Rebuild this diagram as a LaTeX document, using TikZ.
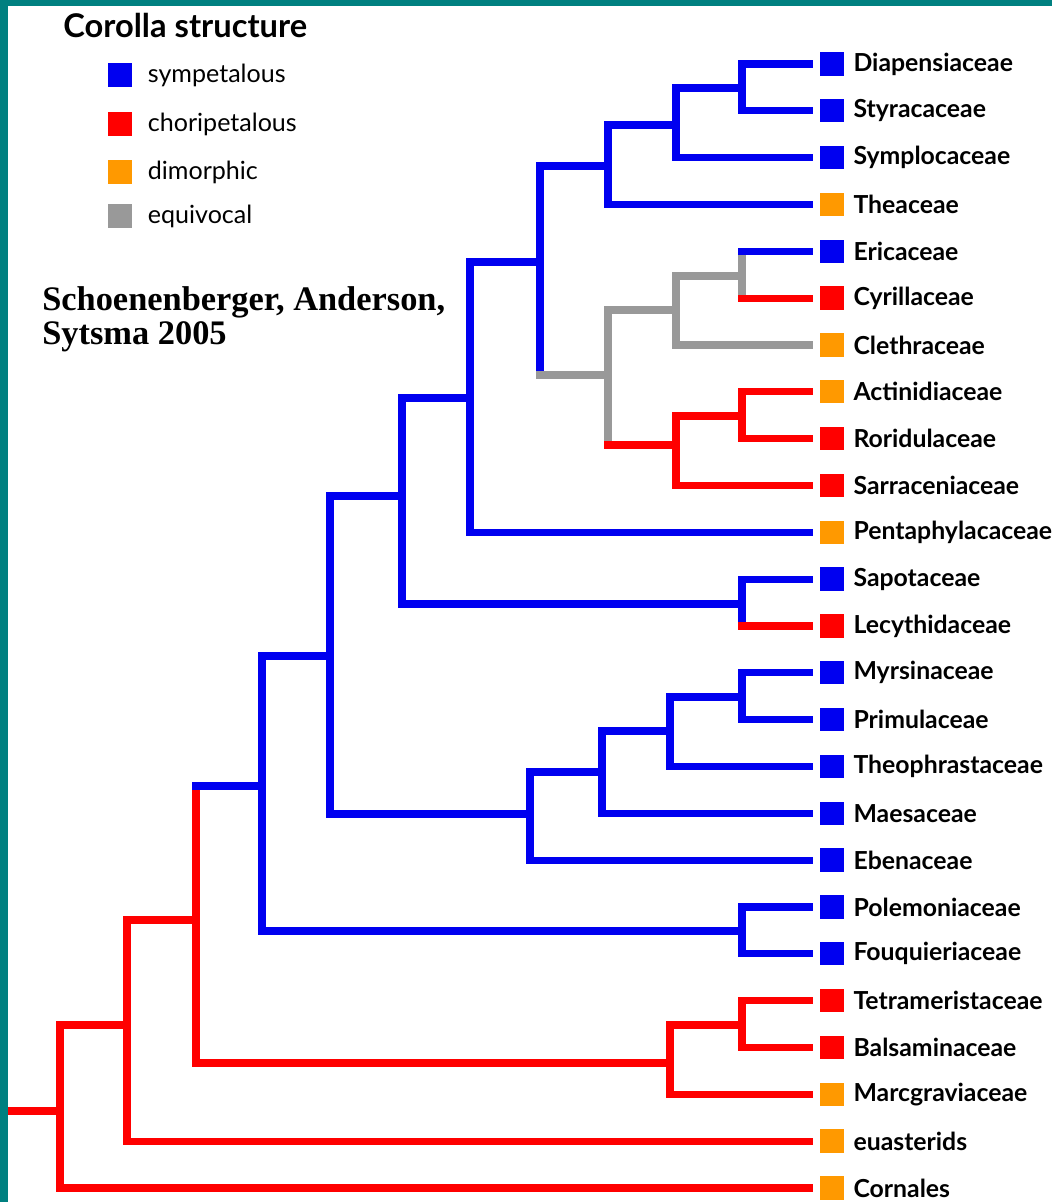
\documentclass[tikz,border=0pt]{standalone}
\usepackage{fontspec}
\setmainfont{Liberation Serif}
\newfontfamily\taxonfont{Lato}
\usepackage{tikz}
\usetikzlibrary{calc,positioning}

\definecolor{sympblue}{RGB}{0,0,240}
\definecolor{chorired}{RGB}{255,0,0}
\definecolor{dimorange}{RGB}{255,153,0}
\definecolor{equigray}{RGB}{153,153,153}
\definecolor{frameteal}{RGB}{0,128,128}

\begin{document}
\begin{tikzpicture}[x=0.75pt,y=-0.75pt]

  % Styles
  \tikzstyle{hbranch}=[line width=5.4pt,shorten <=-2.7pt]
  \tikzstyle{vbranch}=[line width=5.4pt,line cap=rect]
  \tikzstyle{tipbranch}=[hbranch,shorten >=5.25pt]
  \tikzstyle{leafbox}=[minimum size=17.5pt,inner sep=0pt]
  \tikzstyle{leaftext}=[inner sep=0pt,xshift=7pt,font=\taxonfont\bfseries\fontsize{18.6}{20}\selectfont]
  \tikzstyle{keybox}=[leafbox,minimum size=18pt]
  \tikzstyle{keytext}=[inner sep=0pt,xshift=11.5pt,font=\taxonfont\fontsize{18.8}{20}\selectfont]

  % \leaf{<id>}{<colour>}{<label>}
  \newcommand{\leaf}[3]{node[leafbox,fill=#2,label={[leaftext]right:#3}] (#1) {}}
  % \keyentry{<id>}{<colour>}{<label>}
  \newcommand{\keyentry}[3]{node[keybox,fill=#2,label={[keytext]right:#3}] (#1) {}}

  % ===========================================================================

  % Frame
  \useasboundingbox (0,0) rectangle (1052,1202);
  \fill[frameteal] (0,0) rectangle (8,1202);
  \fill[frameteal] (0,0) rectangle (1052,6);

  % Legend
  \node[anchor=west,inner sep=0pt,font=\taxonfont\bfseries\fontsize{24.5}{26}\selectfont] (title) at (63,25) {Corolla structure};
  \path (120,75)  \keyentry{ksym}{sympblue}{sympetalous};
  \path (120,124) \keyentry{kcho}{chorired}{choripetalous};
  \path (120,172) \keyentry{kdim}{dimorange}{dimorphic};
  \path (120,216) \keyentry{kequ}{equigray}{equivocal};

  \node[anchor=north west,align=left,inner sep=0pt,font=\bfseries\fontsize{25.8}{25.5}\selectfont] (cite) at (42,286) {Schoenenberger, Anderson,\\Sytsma 2005};

  % Draw leaves
  \foreach \id/\col/\name [count=\i] in {
      dia/sympblue/Diapensiaceae, sty/sympblue/Styracaceae, sym/sympblue/Symplocaceae,
      the/dimorange/Theaceae, eri/sympblue/Ericaceae, cyr/chorired/Cyrillaceae,
      cle/dimorange/Clethraceae, act/dimorange/Actinidiaceae, ror/chorired/Roridulaceae,
      sar/chorired/Sarraceniaceae, pen/dimorange/Pentaphylacaceae, sap/sympblue/Sapotaceae,
      lec/chorired/Lecythidaceae, myr/sympblue/Myrsinaceae, pri/sympblue/Primulaceae,
      tph/sympblue/Theophrastaceae, mae/sympblue/Maesaceae, ebe/sympblue/Ebenaceae,
      pol/sympblue/Polemoniaceae, fou/sympblue/Fouquieriaceae, tet/chorired/Tetrameristaceae,
      bal/chorired/Balsaminaceae, mar/dimorange/Marcgraviaceae, eua/dimorange/euasterids,
      cor/dimorange/Cornales}
    \path (832,{64+46.83*(\i-1)}) \leaf{\id}{\col}{\name};

  % Inner nodes
  \coordinate (n1)  at (742,88);
  \coordinate (n2)  at (676,125);
  \coordinate (n3)  at (608,166);
  \coordinate (n4)  at (742,276);
  \coordinate (n5)  at (676,310);
  \coordinate (n6)  at (742,416);
  \coordinate (n7)  at (676,445);
  \coordinate (n8)  at (608,375);
  \coordinate (n9)  at (540,262);
  \coordinate (n10) at (470,398);
  \coordinate (n11) at (742,604);
  \coordinate (n12) at (402,496);
  \coordinate (n13) at (742,697);
  \coordinate (n14) at (670,731);
  \coordinate (n15) at (602,772);
  \coordinate (n16) at (530,814);
  \coordinate (n17) at (742,931);
  \coordinate (n18) at (330,656);
  \coordinate (n19) at (262,786);
  \coordinate (n20) at (742,1025);
  \coordinate (n21) at (670,1063);
  \coordinate (n22) at (196,920);
  \coordinate (n23) at (127,1025);
  \coordinate (n24) at (60,1111);
  \coordinate (stem) at (8,1111);

  % Draw verticals
  \foreach \p/\a/\b/\col in {
      n1/dia/sty/sympblue, n2/n1/sym/sympblue, n3/n2/the/sympblue,
      n4/eri/cyr/equigray, n5/n4/cle/equigray, n6/act/ror/chorired,
      n7/n6/sar/chorired, n8/n5/n7/equigray, n9/n3/n8/sympblue,
      n10/n9/pen/sympblue, n11/sap/lec/sympblue, n12/n10/n11/sympblue,
      n13/myr/pri/sympblue, n14/n13/tph/sympblue, n15/n14/mae/sympblue,
      n16/n15/ebe/sympblue, n17/pol/fou/sympblue, n18/n12/n16/sympblue,
      n19/n18/n17/sympblue, n20/tet/bal/chorired, n21/n20/mar/chorired,
      n22/n19/n21/chorired, n23/n22/eua/chorired, n24/n23/cor/chorired}
    \draw[vbranch,\col] (\p |- \a) -- (\p |- \b);

  % Draw branches to inner nodes
  \foreach \p/\c/\col in {
      n2/n1/sympblue, n3/n2/sympblue, n5/n4/equigray, n7/n6/chorired,
      n8/n5/equigray, n8/n7/chorired, n9/n3/sympblue, n9/n8/equigray,
      n10/n9/sympblue, n12/n10/sympblue, n12/n11/sympblue, n14/n13/sympblue,
      n15/n14/sympblue, n16/n15/sympblue, n18/n12/sympblue, n18/n16/sympblue,
      n19/n18/sympblue, n19/n17/sympblue, n21/n20/chorired, n22/n19/sympblue,
      n22/n21/chorired, n23/n22/chorired, n24/n23/chorired}
    \draw[hbranch,\col] (\p |- \c) -- (\c);
  \draw[hbranch,chorired,shorten <=0pt] (stem) -- (n24);

  % Draw branches to leaves
  \foreach \p/\c/\col in {
      n1/dia/sympblue, n1/sty/sympblue, n2/sym/sympblue, n3/the/sympblue,
      n4/eri/sympblue, n4/cyr/chorired, n5/cle/equigray, n6/act/chorired,
      n6/ror/chorired, n7/sar/chorired, n10/pen/sympblue, n11/sap/sympblue,
      n11/lec/chorired, n13/myr/sympblue, n13/pri/sympblue, n14/tph/sympblue,
      n15/mae/sympblue, n16/ebe/sympblue, n17/pol/sympblue, n17/fou/sympblue,
      n20/tet/chorired, n20/bal/chorired, n21/mar/chorired, n23/eua/chorired,
      n24/cor/chorired}
    \draw[tipbranch,\col] (\p |- \c) -- (\c.west);

\end{tikzpicture}
\end{document}
